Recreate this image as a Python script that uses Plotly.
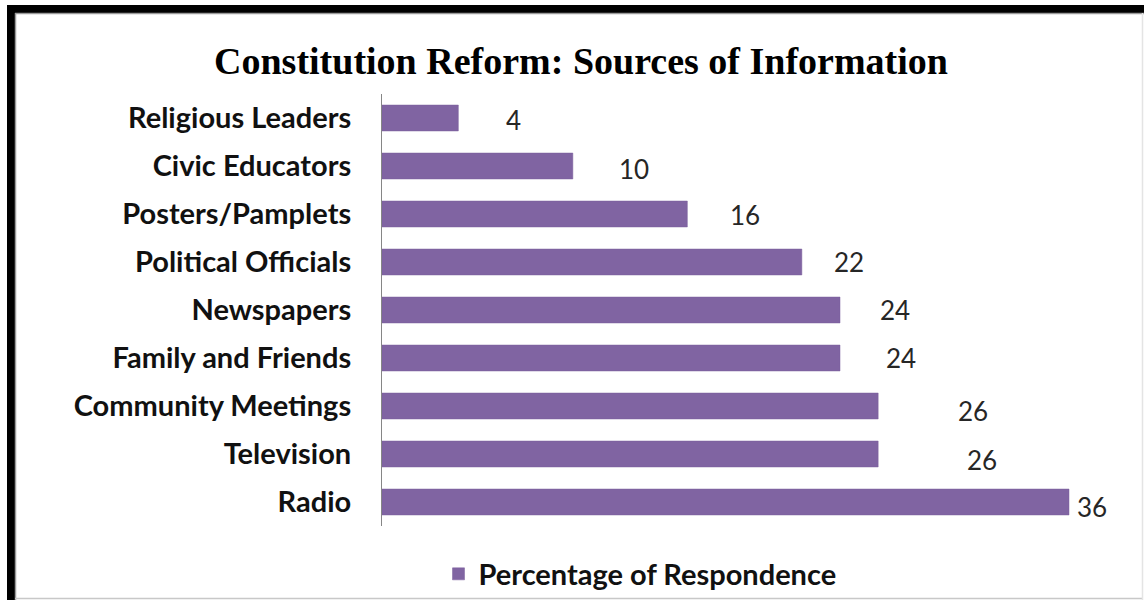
import plotly.graph_objects as go

# ---- data ----
categories = ["Radio", "Television", "Community Meetings", "Family and Friends",
              "Newspapers", "Political Officials", "Posters/Pamplets",
              "Civic Educators", "Religious Leaders"]
values = [36, 26, 26, 24, 24, 22, 16, 10, 4]
series_name = "Percentage of Respondence"
title_text = "Constitution Reform: Sources of Information"

# ---- style ----
W, H = 1144, 600
ML, MR, MT, MB = 382, 18, 94, 74
BAR_COLOR = "#8064A2"
# data label offsets (px) from bar end, as placed in the original
label_dx = [23, 104, 95, 61, 55, 47, 58, 61, 55]
label_dy = [5, 6, 5, 0, 0, 0, 1, 3, 2]

pw = W - ML - MR
ph = H - MT - MB

def px(x):
    return (x - ML) / pw

def py(y):
    return (H - MB - y) / ph

fig = go.Figure()
fig.add_trace(go.Bar(
    y=categories, x=values, orientation="h", name=series_name,
    marker=dict(color=BAR_COLOR, line=dict(color="#7a5f9c", width=0.5)),
    showlegend=True,
))

for c, v, dx, dy in zip(categories, values, label_dx, label_dy):
    fig.add_annotation(x=v, y=c, xref="x", yref="y", text=str(v),
                       showarrow=False, xanchor="center", yanchor="middle",
                       xshift=dx, yshift=-dy,
                       font=dict(family="Lato", size=26, color="#262626"))

shapes = [
    # thick black frame (left and top)
    dict(type="rect", xref="paper", yref="paper", x0=px(7), x1=px(15), y0=py(5), y1=py(600),
         fillcolor="black", line=dict(width=0), layer="above"),
    dict(type="rect", xref="paper", yref="paper", x0=px(7), x1=px(1144), y0=py(5), y1=py(13),
         fillcolor="black", line=dict(width=0), layer="above"),
    # thin gray inner lines
    dict(type="line", xref="paper", yref="paper", x0=px(15.5), x1=px(15.5), y0=py(13), y1=py(600),
         line=dict(color="#9a9a9a", width=1.5)),
    dict(type="line", xref="paper", yref="paper", x0=px(15), x1=px(1144), y0=py(13.5), y1=py(13.5),
         line=dict(color="#9a9a9a", width=1.5)),
    dict(type="line", xref="paper", yref="paper", x0=px(15), x1=px(1142), y0=py(598.5), y1=py(598.5),
         line=dict(color="#c8c8c8", width=1.5)),
    dict(type="line", xref="paper", yref="paper", x0=px(1142.5), x1=px(1142.5), y0=py(13), y1=py(600),
         line=dict(color="#e4e4e4", width=1.5)),
]

fig.update_layout(
    width=W, height=H,
    margin=dict(l=ML, r=MR, t=MT, b=MB, autoexpand=False),
    paper_bgcolor="white", plot_bgcolor="white",
    bargap=0.46,
    title=dict(text="<b>" + title_text + "</b>", x=px(581), xanchor="center",
               y=1 - 61 / H, yanchor="middle", xref="paper",
               font=dict(family="Liberation Serif", size=38, color="black")),
    xaxis=dict(range=[0, pw / ((1069 - ML) / 36)], visible=False, showgrid=False, zeroline=False),
    yaxis=dict(categoryorder="array", categoryarray=categories,
               showline=True, linecolor="#868686", linewidth=1, showgrid=False,
               ticks="", ticklabelstandoff=24,
               tickfont=dict(family="Lato", size=29, color="#111111", weight="bold")),
    legend=dict(orientation="h", x=px(640), xanchor="center", y=py(574), yanchor="middle",
                font=dict(family="Lato", size=29, color="#111111", weight="bold"),
                bgcolor="rgba(0,0,0,0)"),
    shapes=shapes,
)

fig.write_html("out.html")
